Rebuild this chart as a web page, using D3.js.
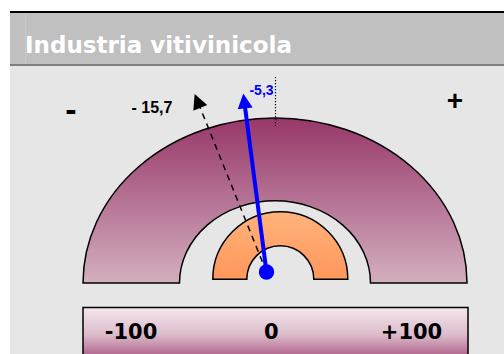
<!DOCTYPE html>
<html><head><meta charset="utf-8">
<script src="https://cdn.jsdelivr.net/npm/d3@7"></script>
<style>html,body{margin:0;padding:0;background:#fff;overflow:hidden}</style>
</head><body>
<script>
const title = "Industria vitivinicola";
const seriesNames = ["Valore settore", "Media"];
const seriesValues = [-5.3, -15.7];
const seriesLabels = ["-5,3", "- 15,7"];
const scaleTicks = [-100, 0, 100];
const scaleTickLabels = ["-100", "0", "+100"];
const domainMin = -100, domainMax = 100;

const W = 504, H = 354;
const svg = d3.select("body").append("svg").attr("width", W).attr("height", H);
const defs = svg.append("defs");

function grad(id, stops) {
  const g = defs.append("linearGradient").attr("id", id)
    .attr("x1", 0).attr("y1", 0).attr("x2", 0).attr("y2", 1);
  stops.forEach(s => g.append("stop").attr("offset", s[0]).attr("stop-color", s[1]));
}
grad("gOuter", [[0, "#973769"], [1, "#d3afbf"]]);
grad("gInner", [[0, "#ffb37c"], [1, "#ff975c"]]);
grad("gBar", [[0, "#f3e6ee"], [0.45, "#dcbccb"], [1, "#993569"]]);

// frame
svg.append("rect").attr("x", 10).attr("y", 66).attr("width", W - 10).attr("height", H - 66).attr("fill", "#e6e6e6");
svg.append("rect").attr("x", 10).attr("y", 13).attr("width", W - 10).attr("height", 51).attr("fill", "#c0c0c0");
svg.append("rect").attr("x", 10).attr("y", 11).attr("width", W - 10).attr("height", 2).attr("fill", "#000");
svg.append("rect").attr("x", 10).attr("y", 64).attr("width", W - 10).attr("height", 2).attr("fill", "#808080");
svg.append("rect").attr("x", 25).attr("y", 13).attr("width", 1).attr("height", 51).attr("fill", "#c9c9c9");
svg.append("text").attr("x", 25).attr("y", 53).text(title)
  .attr("fill", "#fff").attr("font-family", "DejaVu Sans").attr("font-weight", "bold").attr("font-size", 23);

// outer elliptical band
const outerG = svg.append("g").attr("transform", "translate(275,283) scale(1,0.86)");
outerG.append("path")
  .attr("d", d3.arc()({innerRadius: 95.5, outerRadius: 192, startAngle: -Math.PI / 2, endAngle: Math.PI / 2}))
  .attr("fill", "url(#gOuter)").attr("stroke", "#000").attr("stroke-width", 1.5)
  .attr("vector-effect", "non-scaling-stroke");

// inner orange band
svg.append("g").attr("transform", "translate(280.3,279.3)").append("path")
  .attr("d", d3.arc()({innerRadius: 33.5, outerRadius: 67.5, startAngle: -Math.PI / 2, endAngle: Math.PI / 2}))
  .attr("fill", "url(#gInner)").attr("stroke", "#000").attr("stroke-width", 1.5);

// bottom scale bar
const xBar = d3.scaleLinear().domain([domainMin, domainMax]).range([131, 411.5]);
svg.append("rect").attr("x", 83).attr("y", 307.5).attr("width", 385).attr("height", 60)
  .attr("fill", "url(#gBar)").attr("stroke", "#000").attr("stroke-width", 1.5);
svg.selectAll("text.tick").data(scaleTicks).enter().append("text").attr("class", "tick")
  .attr("x", d => xBar(d)).attr("y", 339).attr("text-anchor", "middle")
  .text((d, i) => scaleTickLabels[i])
  .attr("font-family", "DejaVu Sans").attr("font-weight", "bold").attr("font-size", 21).attr("fill", "#000");

// minus / plus
svg.append("text").attr("x", 71).attr("y", 121).attr("text-anchor", "middle").text("-")
  .attr("font-family", "Liberation Sans").attr("font-weight", "bold").attr("font-size", 34);
svg.append("text").attr("x", 455).attr("y", 110).attr("text-anchor", "middle").text("+")
  .attr("font-family", "Liberation Sans").attr("font-weight", "bold").attr("font-size", 28);

// zero marker
const cx = 266.5, cy = 272;
svg.append("line").attr("x1", 275.5).attr("x2", 275.5).attr("y1", 77).attr("y2", 126)
  .attr("stroke", "#000").attr("stroke-width", 1.2).attr("stroke-dasharray", "1.2,1.8");

// needles
const angle = d3.scaleLinear().domain([domainMin, domainMax]).range([-140, 140]);
function needle(value, len, color, width, dash) {
  const a = angle(value) * Math.PI / 180;
  const ux = Math.sin(a), uy = -Math.cos(a);
  const tip = [cx + ux * len, cy + uy * len];
  const hl = 15, hw = 7.5;
  const base = [tip[0] - ux * hl, tip[1] - uy * hl];
  const px = -uy, py = ux;
  svg.append("line").attr("x1", cx).attr("y1", cy).attr("x2", base[0] + ux * 2).attr("y2", base[1] + uy * 2)
    .attr("stroke", color).attr("stroke-width", width).attr("stroke-dasharray", dash || null);
  svg.append("path").attr("d", d3.line()([tip, [base[0] + px * hw, base[1] + py * hw], [base[0] - px * hw, base[1] - py * hw]]) + "Z")
    .attr("fill", color);
}
needle(seriesValues[1], 192, "#000", 1.5, "6,5");
needle(seriesValues[0], 180, "#0000ff", 4);
svg.append("circle").attr("cx", cx).attr("cy", cy).attr("r", 7.7).attr("fill", "#0000ff");

// value labels
svg.append("text").attr("x", 261.5).attr("y", 95).attr("text-anchor", "middle").text(seriesLabels[0])
  .attr("font-family", "Liberation Sans").attr("font-weight", "bold").attr("font-size", 14).attr("fill", "#0000ff");
svg.append("text").attr("x", 152).attr("y", 112.7).attr("text-anchor", "middle").text(seriesLabels[1])
  .attr("font-family", "Liberation Sans").attr("font-weight", "bold").attr("font-size", 16).attr("fill", "#000");
</script>
</body></html>
